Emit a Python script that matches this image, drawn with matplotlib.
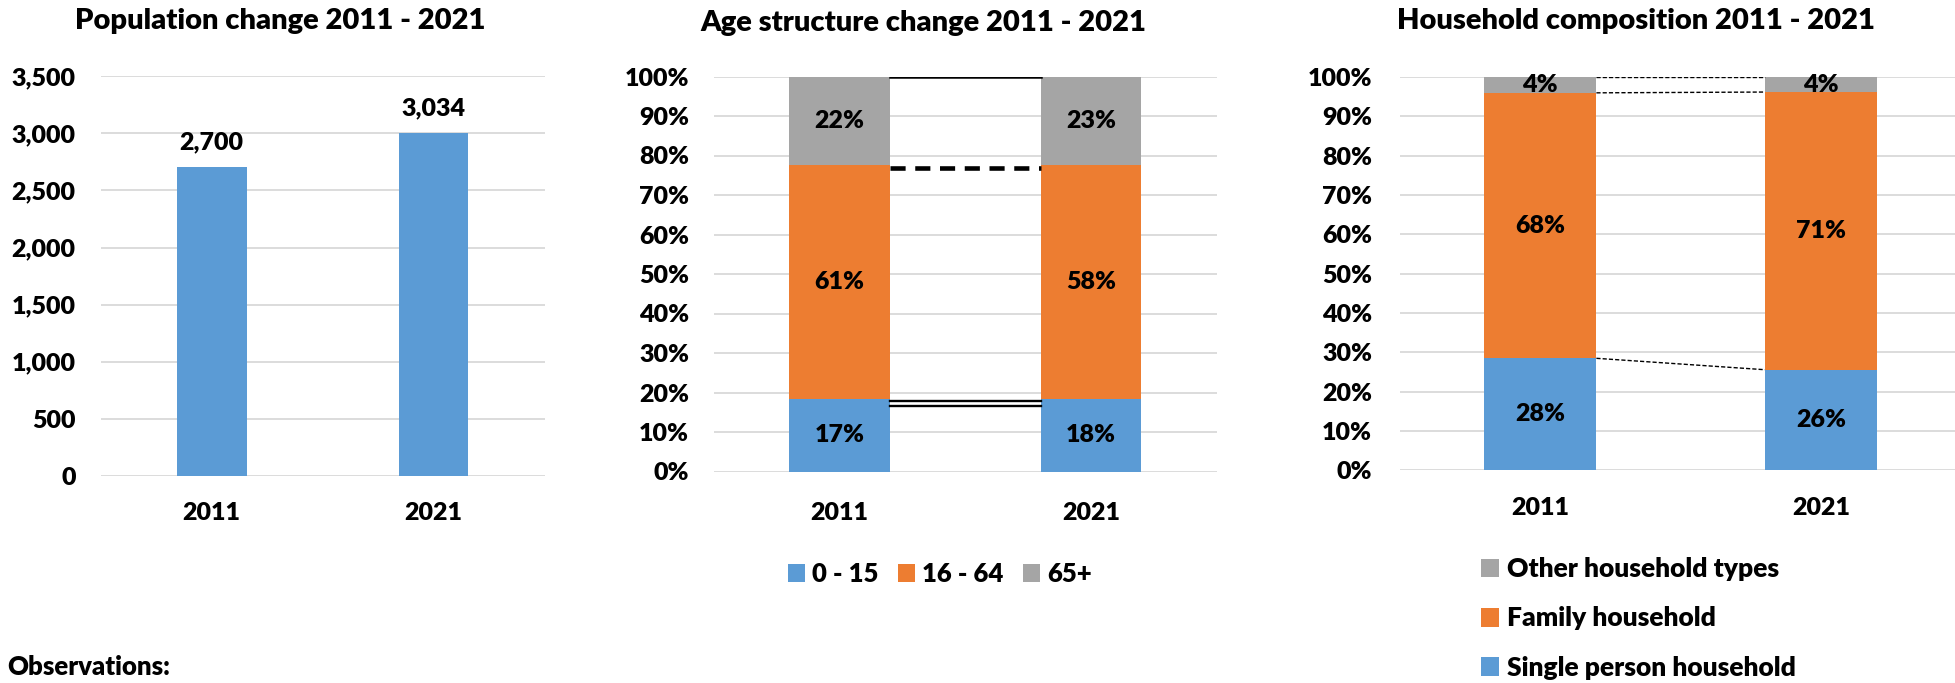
import numpy as np
import matplotlib
matplotlib.use("Agg")
import matplotlib.pyplot as plt
from matplotlib.ticker import FuncFormatter

plt.rcParams['font.family'] = ['Lato', 'DejaVu Sans']
WT = 800
plt.rcParams['font.weight'] = WT

# data
years = ['2011', '2021']

population = [2705, 3005]
population_labels = ['2,700', '3,034']

age_groups = ['0 - 15', '16 - 64', '65+']
age_0_15 = [18.3, 18.3]
age_16_64 = [59.2, 59.2]
age_65_plus = [22.5, 22.5]
age_0_15_labels = ['17%', '18%']
age_16_64_labels = ['61%', '58%']
age_65_plus_labels = ['22%', '23%']

household_types = ['Single person household', 'Family household', 'Other household types']
single_person = [28.5, 25.6]
family = [67.5, 70.6]
other_types = [4.0, 3.8]
single_person_labels = ['28%', '26%']
family_labels = ['68%', '71%']
other_types_labels = ['4%', '4%']

BLUE = '#5B9BD5'
ORANGE = '#ED7D31'
GREY = '#A5A5A5'
GRID = '#D9D9D9'

W, H = 1955, 683
fig = plt.figure(figsize=(W / 100, H / 100), dpi=100)


def px_axes(left, right, top, bottom):
    return fig.add_axes([left / W, 1 - bottom / H, (right - left) / W, (bottom - top) / H])


def style(ax, ymax, step, fmt, ypad, xpad):
    ax.set_ylim(0, ymax)
    ax.set_xlim(-0.5, 1.5)
    ax.set_yticks(np.arange(0, ymax + 1, step))
    ax.yaxis.set_major_formatter(FuncFormatter(fmt))
    ax.grid(axis='y', color=GRID, linewidth=1.3, zorder=0)
    ax.set_axisbelow(True)
    for s in ax.spines.values():
        s.set_visible(False)
    ax.tick_params(axis='both', length=0, labelsize=18)
    ax.tick_params(axis='y', pad=ypad)
    ax.tick_params(axis='x', pad=xpad)
    ax.set_xticks([0, 1])
    ax.set_xticklabels(years, fontweight=WT)
    for t in ax.get_yticklabels():
        t.set_fontweight(WT)


x = np.arange(len(years))

# ---- Population change
ax1 = px_axes(100.7, 544.6, 76.4, 475.7)
style(ax1, 3500, 500, lambda v, p: f'{int(v):,}', 18, 19)
ax1.bar(x, population, width=0.314, color=BLUE, zorder=2)
for xi, v, lab in zip(x, population, population_labels):
    ax1.annotate(lab, (xi, v), xytext=(0, 10), textcoords='offset points',
                 ha='center', va='bottom', fontsize=18, fontweight=WT)
fig.text(280.5 / W, 1 - 21.4 / H, 'Population change 2011 - 2021', ha='center', va='center',
         fontsize=21, fontweight=WT)

# ---- Age structure change
ax2 = px_axes(714, 1216.7, 76.5, 471.5)
style(ax2, 100, 10, lambda v, p: f'{int(v)}%', 18, 22)
bw2 = 0.40
b_a = np.array(age_0_15)
b_b = b_a + np.array(age_16_64)
h1 = ax2.bar(x, age_0_15, width=bw2, color=BLUE, zorder=2)
h2 = ax2.bar(x, age_16_64, bottom=b_a, width=bw2, color=ORANGE, zorder=2)
h3 = ax2.bar(x, age_65_plus, bottom=b_b, width=bw2, color=GREY, zorder=2)
for vals, bots, labs in [(age_0_15, np.zeros(2), age_0_15_labels),
                         (age_16_64, b_a, age_16_64_labels),
                         (age_65_plus, b_b, age_65_plus_labels)]:
    for xi, v, b, lab in zip(x, vals, bots, labs):
        ax2.text(xi, b + v / 2, lab, ha='center', va='center', fontsize=18, fontweight=WT)
xs = [bw2 / 2, 1 - bw2 / 2]
total = b_b[0] + age_65_plus[0]
ax2.plot(xs, [total, total], color='black', lw=1.8, zorder=3)
ax2.plot(xs, [b_b[0] - 0.6] * 2, color='black', lw=3.3, dashes=(3.3, 2.1), zorder=3)
ax2.plot(xs, [b_a[0] - 0.5] * 2, color='black', lw=1.7, zorder=3)
ax2.plot(xs, [b_a[0] - 1.6] * 2, color='black', lw=1.7, zorder=3)
fig.text(923.4 / W, 1 - 23 / H, 'Age structure change 2011 - 2021', ha='center', va='center',
         fontsize=21, fontweight=WT)
fig.legend([h1, h2, h3], age_groups, loc='center left', bbox_to_anchor=(788 / W, 1 - 574 / H),
           ncol=3, frameon=False, handlelength=0.65, handleheight=0.65, borderpad=0,
           borderaxespad=0, handletextpad=0.3, columnspacing=0.75,
           prop={'weight': WT, 'size': 18.5})

# ---- Household composition
ax3 = px_axes(1399.8, 1961.5, 77.1, 470.4)
style(ax3, 100, 10, lambda v, p: f'{int(v)}%', 20, 19)
bw3 = 0.40
s = np.array(single_person)
sf = s + np.array(family)
g1 = ax3.bar(x, single_person, width=bw3, color=BLUE, zorder=2)
g2 = ax3.bar(x, family, bottom=s, width=bw3, color=ORANGE, zorder=2)
g3 = ax3.bar(x, other_types, bottom=sf, width=bw3, color=GREY, zorder=2)
for vals, bots, labs in [(single_person, np.zeros(2), single_person_labels),
                         (family, s, family_labels),
                         (other_types, sf, other_types_labels)]:
    for xi, v, b, lab in zip(x, vals, bots, labs):
        ax3.text(xi, b + v / 2, lab, ha='center', va='center', fontsize=18, fontweight=WT)
xs3 = [bw3 / 2, 1 - bw3 / 2]
tops = sf + np.array(other_types)
for yy in (tops, sf, s):
    ax3.plot(xs3, yy, color='black', lw=1.0, dashes=(3, 1.5), zorder=3)
fig.text(1635.7 / W, 1 - 20.9 / H, 'Household composition 2011 - 2021', ha='center', va='center',
         fontsize=21, fontweight=WT)
fig.legend([g3, g2, g1], household_types[::-1], loc='center left',
           bbox_to_anchor=(1481 / W, 1 - 618.5 / H), ncol=1, frameon=False,
           handlelength=0.7, handleheight=0.7, borderpad=0, borderaxespad=0,
           handletextpad=0.3, labelspacing=0.95, prop={'weight': WT, 'size': 19})

fig.text(7 / W, 1 - 667 / H, 'Observations:', ha='left', va='center', fontsize=18.5, fontweight=WT)

fig.savefig('out.png', dpi=100)
